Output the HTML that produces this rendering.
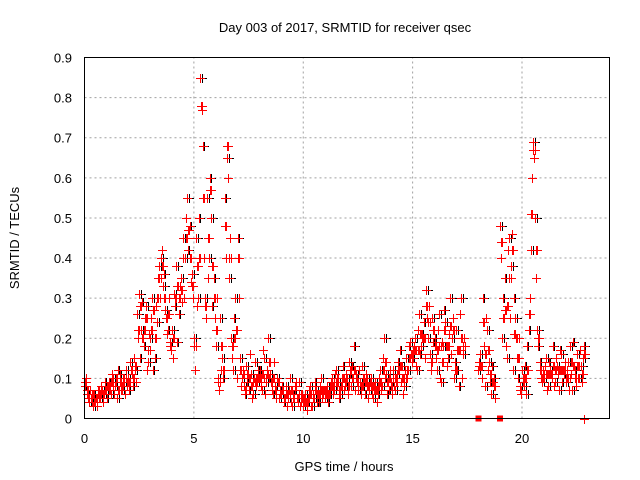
<!DOCTYPE html>
<html><head><meta charset="utf-8"><style>
body{margin:0;background:#fff;}
svg{display:block;font-family:"Liberation Sans",sans-serif;}
</style></head><body>
<svg id="chart" width="640" height="480" viewBox="0 0 640 480">
<rect width="640" height="480" fill="#fff"/>
<g id="grid"></g>
<g id="axes"></g>
<g id="pts" shape-rendering="crispEdges"></g>
<rect x="84.5" y="57.5" width="525" height="361" fill="none" stroke="#000" stroke-width="1"/>
<text x="345" y="32" font-size="13" text-anchor="middle">Day 003 of 2017, SRMTID for receiver qsec</text>
<text x="344" y="471" font-size="13" text-anchor="middle">GPS time / hours</text>
<text transform="translate(19,238) rotate(-90)" font-size="13" text-anchor="middle">SRMTID / TECUs</text>
</svg>
<script>
const xTicks=[0,5,10,15,20];
const yTicks=[0,0.1,0.2,0.3,0.4,0.5,0.6,0.7,0.8,0.9];
const startHour=0, sampleStep=0.1;
const satA=[
.08,.06,.04,.05,.03,.04,.06,.05,.07,.06,
.07,.09,.06,.10,.08,.05,.11,.07,.09,.12,
.10,.14,.08,.12,.26,.31,.22,.18,.28,.14,
.20,.30,.15,.24,.38,.40,.33,.27,.22,.19,
.22,.31,.38,.26,.35,.45,.40,.55,.48,.36,
.20,.45,.30,.85,.68,.30,.55,.40,.50,.35,
.18,.10,.25,.15,.55,.65,.35,.20,.12,.30,
.45,.15,.10,.08,.13,.07,.11,.06,.14,.09,
.12,.07,.15,.09,.20,.11,.06,.08,.10,.05,
.06,.04,.08,.05,.10,.03,.07,.05,.09,.04,
.03,.06,.04,.08,.03,.05,.07,.04,.10,.06,
.05,.08,.06,.10,.07,.12,.09,.06,.13,.08,
.10,.14,.08,.18,.11,.07,.09,.13,.06,.10,
.07,.10,.05,.09,.06,.12,.08,.20,.11,.07,
.09,.12,.07,.11,.17,.13,.08,.15,.12,.19,
.15,.20,.12,.26,.18,.24,.32,.20,.16,.25,
.20,.12,.26,.09,.18,.24,.15,.30,.20,.10,
.22,.08,.30,.16,null,null,null,null,null,null,
.12,.16,.30,.08,.22,.14,.06,.10,null,null,
.48,.20,.35,.15,.45,.38,.12,.25,.10,.08,
.12,.08,.06,.22,.42,.69,.50,.22,.14,.09,
.10,.15,.08,.12,.18,.09,.13,.07,.16,.11,
.09,.14,.18,.07,.12,.16,.10,.13,.15,null];
const satB=[
.10,.05,.07,.04,.06,.03,.05,.08,.04,.09,
.05,.08,.11,.06,.09,.12,.07,.10,.06,.08,
.07,.11,.15,.09,.20,.15,.29,.25,.12,.21,
.25,.12,.28,.35,.30,.42,.36,.21,.30,.17,
.15,.28,.19,.33,.29,.30,.50,.42,.34,.30,
.12,.28,.50,.77,.40,.25,.35,.60,.28,.25,
.30,.07,.12,.10,.40,.60,.45,.15,.25,.10,
.30,.08,.12,.06,.09,.16,.05,.10,.08,.12,
.08,.17,.06,.12,.10,.07,.14,.05,.09,.07,
.08,.05,.03,.07,.04,.06,.09,.04,.03,.06,
.05,.02,.07,.03,.06,.09,.04,.08,.05,.07,
.07,.04,.09,.06,.11,.08,.05,.10,.07,.11,
.06,.11,.13,.07,.09,.12,.06,.08,.11,.05,
.09,.06,.08,.04,.10,.07,.15,.10,.06,.12,
.06,.08,.10,.14,.09,.06,.12,.10,.18,.14,
.18,.13,.22,.16,.21,.15,.25,.28,.12,.19,
.15,.22,.10,.19,.27,.13,.21,.16,.25,.14,
.12,.26,.10,.20,null,null,null,null,null,null,
.14,.10,.18,.25,.12,.09,.13,.05,null,null,
.40,.30,.18,.42,.25,.46,.30,.15,.20,.06,
.09,.13,.18,.30,.60,.65,.35,.18,.10,.12,
.13,.07,.14,.10,.08,.15,.11,.17,.09,.14,
.12,.07,.11,.19,.08,.10,.17,.09,.18,null];
const satK=[
.09,.07,.05,.06,.04,.05,.07,.06,.06,.07,
.08,.07,.09,.08,.10,.07,.09,.08,.10,.09,
.09,.12,.10,.13,.22,.28,.20,.22,.25,.17,
.22,.27,.20,.30,.35,.38,.30,.25,.26,.18,
.20,.30,.33,.30,.32,.40,.45,.47,.40,.33,
.18,.38,.40,.78,.55,.28,.45,.57,.38,.30,
.22,.09,.18,.12,.48,.68,.40,.18,.20,.22,
.40,.12,.11,.07,.11,.10,.08,.09,.10,.10,
.10,.11,.10,.11,.14,.09,.10,.07,.09,.06,
.07,.05,.06,.06,.07,.05,.08,.05,.06,.05,
.04,.04,.05,.06,.05,.07,.06,.06,.07,.07,
.06,.06,.08,.08,.09,.10,.07,.08,.10,.09,
.08,.12,.10,.12,.10,.09,.08,.10,.09,.08,
.08,.08,.07,.07,.08,.09,.12,.14,.09,.10,
.08,.10,.09,.12,.13,.10,.10,.12,.15,.16,
.17,.17,.17,.21,.20,.20,.28,.24,.14,.22,
.18,.17,.18,.14,.22,.18,.18,.23,.22,.12,
.17,.17,.20,.18,null,null,null,null,null,null,
.13,.13,.24,.16,.17,.11,.09,.08,null,null,
.44,.25,.27,.28,.35,.42,.21,.20,.15,.07,
.10,.10,.12,.26,.51,.67,.42,.20,.12,.10,
.11,.11,.11,.11,.13,.12,.12,.12,.12,.12,
.10,.10,.14,.13,.10,.13,.13,.11,.16,null];
const zeroHours=[18.0,19.0];
const NS="http://www.w3.org/2000/svg";
const X0=84.5,X1=609.5,Y0=418.5,Y1=57.5;
function xs(h){return X0+h/24*(X1-X0);}
function ys(v){return Y0-v/0.9*(Y0-Y1);}
function mk(tag,attrs,parent){const e=document.createElementNS(NS,tag);for(const k in attrs)e.setAttribute(k,attrs[k]);parent.appendChild(e);return e;}
const grid=document.getElementById('grid'),axes=document.getElementById('axes'),pts=document.getElementById('pts');
yTicks.forEach(v=>{
  const y=ys(v);
  if(v>0&&v<0.9){const l=mk('line',{x1:X0,x2:X1,y1:y,y2:y,stroke:'#a0a0a0','stroke-dasharray':'2,3'},grid);
  
  }
  const t=mk('text',{x:72,y:y+5,'font-size':13,'text-anchor':'end'},axes);
  t.textContent=String(v);
  
  
});
xTicks.forEach(h=>{
  const x=xs(h);
  if(h>0){const l=mk('line',{x1:x,x2:x,y1:Y0,y2:Y1,stroke:'#a0a0a0','stroke-dasharray':'2,3'},grid);
  
  }
  const t=mk('text',{x:x,y:443,'font-size':13,'text-anchor':'middle'},axes);
  t.textContent=String(h);
  
  
});
function plus(h,v,color){
  const x=Math.round(xs(h))+0.5,y=Math.round(ys(v))+0.5;
  const p=mk('path',{d:`M${x-4.5},${y}H${x+4.5}M${x},${y-4.5}V${y+4.5}`,stroke:color,'stroke-width':1.2,fill:'none'},pts);
  
  
}
function series(arr,color,off){arr.forEach((v,i)=>{if(v!==null)plus(startHour+i*sampleStep+off,v,color);});}
series(satB,'#000',0.06);
series(satA,'#000',0.085);
series(satK,'#f00',0.025);
series(satA,'#f00',0);
series(satB,'#f00',0.05);
series(satK,'#f00',0.075);
plus(22.85,0,'#f00');
zeroHours.forEach(h=>{
  const r=mk('rect',{x:xs(h)-3,y:ys(0)-3,width:6,height:6,fill:'#f00'},pts);
  
  
});
</script>
</body></html>
